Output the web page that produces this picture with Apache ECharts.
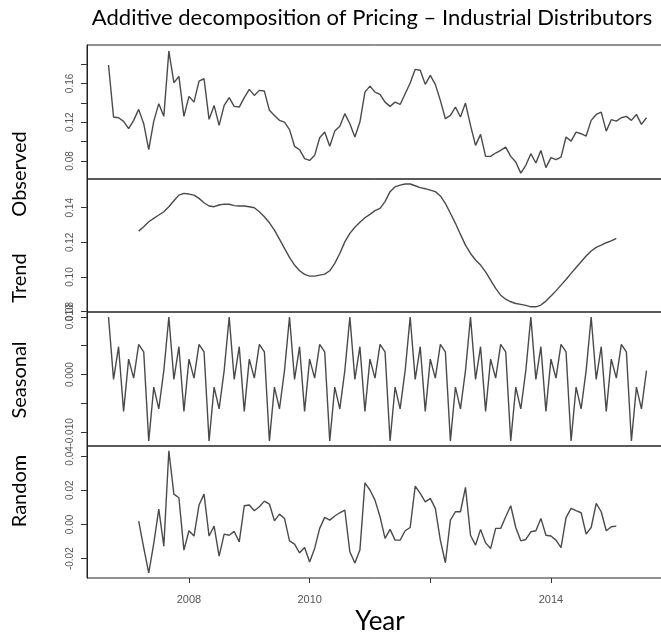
<!DOCTYPE html>
<html><head><meta charset="utf-8">
<script src="https://cdn.jsdelivr.net/npm/echarts@6/dist/echarts.min.js"></script>
<style>html,body{margin:0;padding:0;background:#fff}#c{width:661px;height:639px}</style>
</head><body><div id="c"></div>
<script>
// ---- data (monthly, starting Sep 2006) ----
const START_YEAR = 2006;
const START_MONTH = 9;
const FREQ = 12;

const observed = [
  0.179, 0.1253, 0.1246, 0.1208, 0.1133, 0.1219, 0.1332, 0.1184, 0.0916, 0.1211,
  0.1391, 0.126, 0.1933, 0.1607, 0.1672, 0.126, 0.1466, 0.1407, 0.1624, 0.1648,
  0.1229, 0.1373, 0.1167, 0.1373, 0.1453, 0.1363, 0.1356, 0.1453, 0.1538, 0.1476,
  0.1528, 0.1521, 0.1322, 0.127, 0.1219, 0.1201, 0.1123, 0.0951, 0.0916, 0.0824,
  0.0806, 0.0858, 0.104, 0.1098, 0.0951, 0.1108, 0.1157, 0.1288, 0.1184, 0.1047,
  0.1201, 0.151, 0.1572, 0.151, 0.1487, 0.1407, 0.1363, 0.1407, 0.1383, 0.1494,
  0.1604, 0.1745, 0.1735, 0.159, 0.1683, 0.159, 0.1425, 0.1236, 0.127, 0.1356,
  0.1253, 0.1397, 0.1167, 0.0961, 0.1074, 0.0847, 0.0847, 0.0882, 0.0909, 0.0943,
  0.0847, 0.0789, 0.0675, 0.0755, 0.0875, 0.0779, 0.0909, 0.0731, 0.0834, 0.0813,
  0.084, 0.1047, 0.1005, 0.1098, 0.1081, 0.1057, 0.1219, 0.128, 0.1304, 0.1108,
  0.1226, 0.1211, 0.1246, 0.126, 0.1219, 0.128, 0.1177, 0.1246
];

const trend = [
  null, null, null, null, null, null,
  0.1265, 0.129, 0.1319, 0.1339, 0.1358, 0.1377, 0.1406, 0.144, 0.1473, 0.1483,
  0.1479, 0.1473, 0.1454, 0.1429, 0.141, 0.1406, 0.1416, 0.1421, 0.142, 0.1412,
  0.141, 0.141, 0.1406, 0.14, 0.1377, 0.1348, 0.1313, 0.1271, 0.1219, 0.1165,
  0.1113, 0.1069, 0.1036, 0.1015, 0.1005, 0.1005, 0.1011, 0.1017, 0.1036, 0.1079,
  0.1136, 0.1203, 0.1252, 0.1287, 0.1316, 0.1342, 0.1362, 0.1383, 0.1396, 0.1435,
  0.1493, 0.1521, 0.1531, 0.1537, 0.1537, 0.1527, 0.1516, 0.151, 0.1502, 0.1493,
  0.1468, 0.1425, 0.1368, 0.131, 0.1246, 0.1184, 0.1136, 0.1098, 0.1069, 0.103,
  0.0982, 0.0934, 0.0895, 0.0872, 0.0857, 0.0847, 0.0842, 0.0836, 0.0828, 0.0828,
  0.0838, 0.0861, 0.089, 0.092, 0.0953, 0.0986, 0.1021, 0.1055, 0.1088, 0.1121,
  0.115, 0.1171, 0.1184, 0.1198, 0.1209, 0.1223,
  null, null, null, null, null, null
];

// seasonal figure, Sep .. Aug (repeats every year)
const seasonalFigure = [
  0.00997, -0.00082, 0.00483, -0.00636, 0.00267, -0.0006,
  0.00524, 0.00395, -0.01149, -0.00216, -0.00594, 0.0007
];

const random = [
  null, null, null, null, null, null,
  0.0019, -0.0135, -0.0283, -0.0111, 0.0089, -0.0127, 0.043, 0.0177, 0.0156, -0.015,
  -0.0037, -0.0068, 0.0113, 0.0177, -0.0068, -0.001, -0.0185, -0.0057, -0.0063, -0.0041,
  -0.0102, 0.0109, 0.0113, 0.008, 0.0103, 0.0136, 0.0119, 0.0021, 0.006, 0.0035,
  -0.0096, -0.0115, -0.0166, -0.0135, -0.0219, -0.014, -0.0023, 0.0041, 0.0025, 0.0049,
  0.0068, 0.0084, -0.016, -0.0225, -0.015, 0.0243, 0.0201, 0.0142, 0.0045, -0.0082,
  -0.0029, -0.0092, -0.0092, -0.0037, -0.0018, 0.0224, 0.0181, 0.0132, 0.0152, 0.0094,
  -0.0092, -0.0224, 0.0025, 0.0074, 0.0074, 0.0216, -0.0063, -0.0121, -0.0029, -0.0108,
  -0.0141, -0.0023, -0.0023, 0.0045, 0.0109, -0.0018, -0.0096, -0.0088, -0.0043, -0.0037,
  0.0035, -0.0063, -0.0068, -0.0092, -0.0135, 0.004, 0.0094, 0.008, 0.0068, -0.0057,
  -0.0018, 0.0123, 0.0074, -0.0037, -0.0014, -0.001,
  null, null, null, null, null, null
];

const xTicks = [2008, 2010, 2012, 2014];
const xTickLabels = ['2008', '2010', '', '2014'];

const obsTicks = [0.08, 0.10, 0.12, 0.14, 0.16, 0.18];
const obsLabels = [0.08, 0.12, 0.16];
const trendTicks = [0.08, 0.10, 0.12, 0.14];
const trendLabels = [0.08, 0.10, 0.12, 0.14];
const seasTicks = [-0.010, -0.005, 0.000, 0.005, 0.010];
const seasLabels = [-0.010, 0.000, 0.010];
const randTicks = [-0.02, 0.00, 0.02, 0.04];
const randLabels = [-0.02, 0.00, 0.02, 0.04];

const panelNames = ['Observed', 'Trend', 'Seasonal', 'Random'];
const titleText = 'Additive decomposition of Pricing \u2013 Industrial Distributors';
const xName = 'Year';

// ---- build ----
const timeOf = i => START_YEAR + (START_MONTH - 1) / FREQ + i / FREQ;
const toPairs = arr => arr.map((v, i) => [timeOf(i), v]);
const seasonal = observed.map((_, i) => seasonalFigure[i % FREQ]);

const X_MIN = 2006.31, X_MAX = 2015.94;
const grids = [
  { top: 45, height: 134 },
  { top: 179, height: 133 },
  { top: 312, height: 134 },
  { top: 446, height: 132 }
].map(g => Object.assign({
  left: 87, width: 581, show: true, borderColor: '#222', borderWidth: 1,
  backgroundColor: 'transparent', containLabel: false, outerBoundsMode: 'none'
}, g));

const yRanges = [
  [0.0614, 0.1996, obsTicks, obsLabels, 2],
  [0.0798, 0.1566, trendTicks, trendLabels, 2],
  [-0.01235, 0.01083, seasTicks, seasLabels, 3],
  [-0.0313, 0.0458, randTicks, randLabels, 2]
];

const xAxes = grids.map((g, k) => {
  const last = k === 3;
  return {
    type: 'value', gridIndex: k, min: X_MIN, max: X_MAX, show: last, position: 'bottom',
    axisLine: { show: false, onZero: false },
    splitLine: { show: false },
    axisTick: { show: last, customValues: xTicks, length: 5, inside: false,
      lineStyle: { color: '#333', width: 1 } },
    axisLabel: { show: last, customValues: xTicks, margin: 16, fontSize: 11,
      color: '#555', fontFamily: 'Liberation Sans',
      formatter: v => { const j = xTicks.indexOf(Math.round(v)); return j >= 0 ? xTickLabels[j] : ''; } }
  };
});

const yAxes = yRanges.map((r, k) => ({
  type: 'value', gridIndex: k, min: r[0], max: r[1],
  axisLine: { show: true, onZero: false, lineStyle: { color: '#222', width: 1 } },
  splitLine: { show: false },
  axisTick: { show: true, customValues: r[2], length: 6, inside: false,
    lineStyle: { color: '#333', width: 1 } },
  axisLabel: { show: true, customValues: r[3], rotate: 90, margin: 12, fontSize: 10,
    color: '#555', fontFamily: 'Liberation Sans',
    formatter: v => Number(v).toFixed(r[4]) }
}));

const lineStyle = { color: '#4a4a4a', width: 1.4 };
const seriesData = [observed, trend, seasonal, random];
const series = seriesData.map((arr, k) => ({
  type: 'line', xAxisIndex: k, yAxisIndex: k, data: toPairs(arr),
  showSymbol: false, symbol: 'none', connectNulls: false,
  lineStyle: lineStyle, silent: true, animation: false
}));

const nameCenters = [174, 278, 380, 491];
const graphics = [
  { type: 'text', x: 372, y: 18, style: { text: titleText, font: '22px Lato', fill: '#000',
      textAlign: 'center', textVerticalAlign: 'middle' } },
  { type: 'text', x: 380, y: 622, style: { text: xName, font: '26px Lato', fill: '#000',
      textAlign: 'center', textVerticalAlign: 'middle' } }
].concat(panelNames.map((n, k) => ({
  type: 'text', x: 20, y: nameCenters[k], rotation: Math.PI / 2,
  style: { text: n, font: '20px Lato', fill: '#000', textAlign: 'center', textVerticalAlign: 'middle' }
})));

const chart = echarts.init(document.getElementById('c'), null, { renderer: 'canvas' });
chart.setOption({
  animation: false,
  backgroundColor: '#fff',
  grid: grids,
  xAxis: xAxes,
  yAxis: yAxes,
  series: series,
  graphic: graphics
});
</script>
</body></html>
